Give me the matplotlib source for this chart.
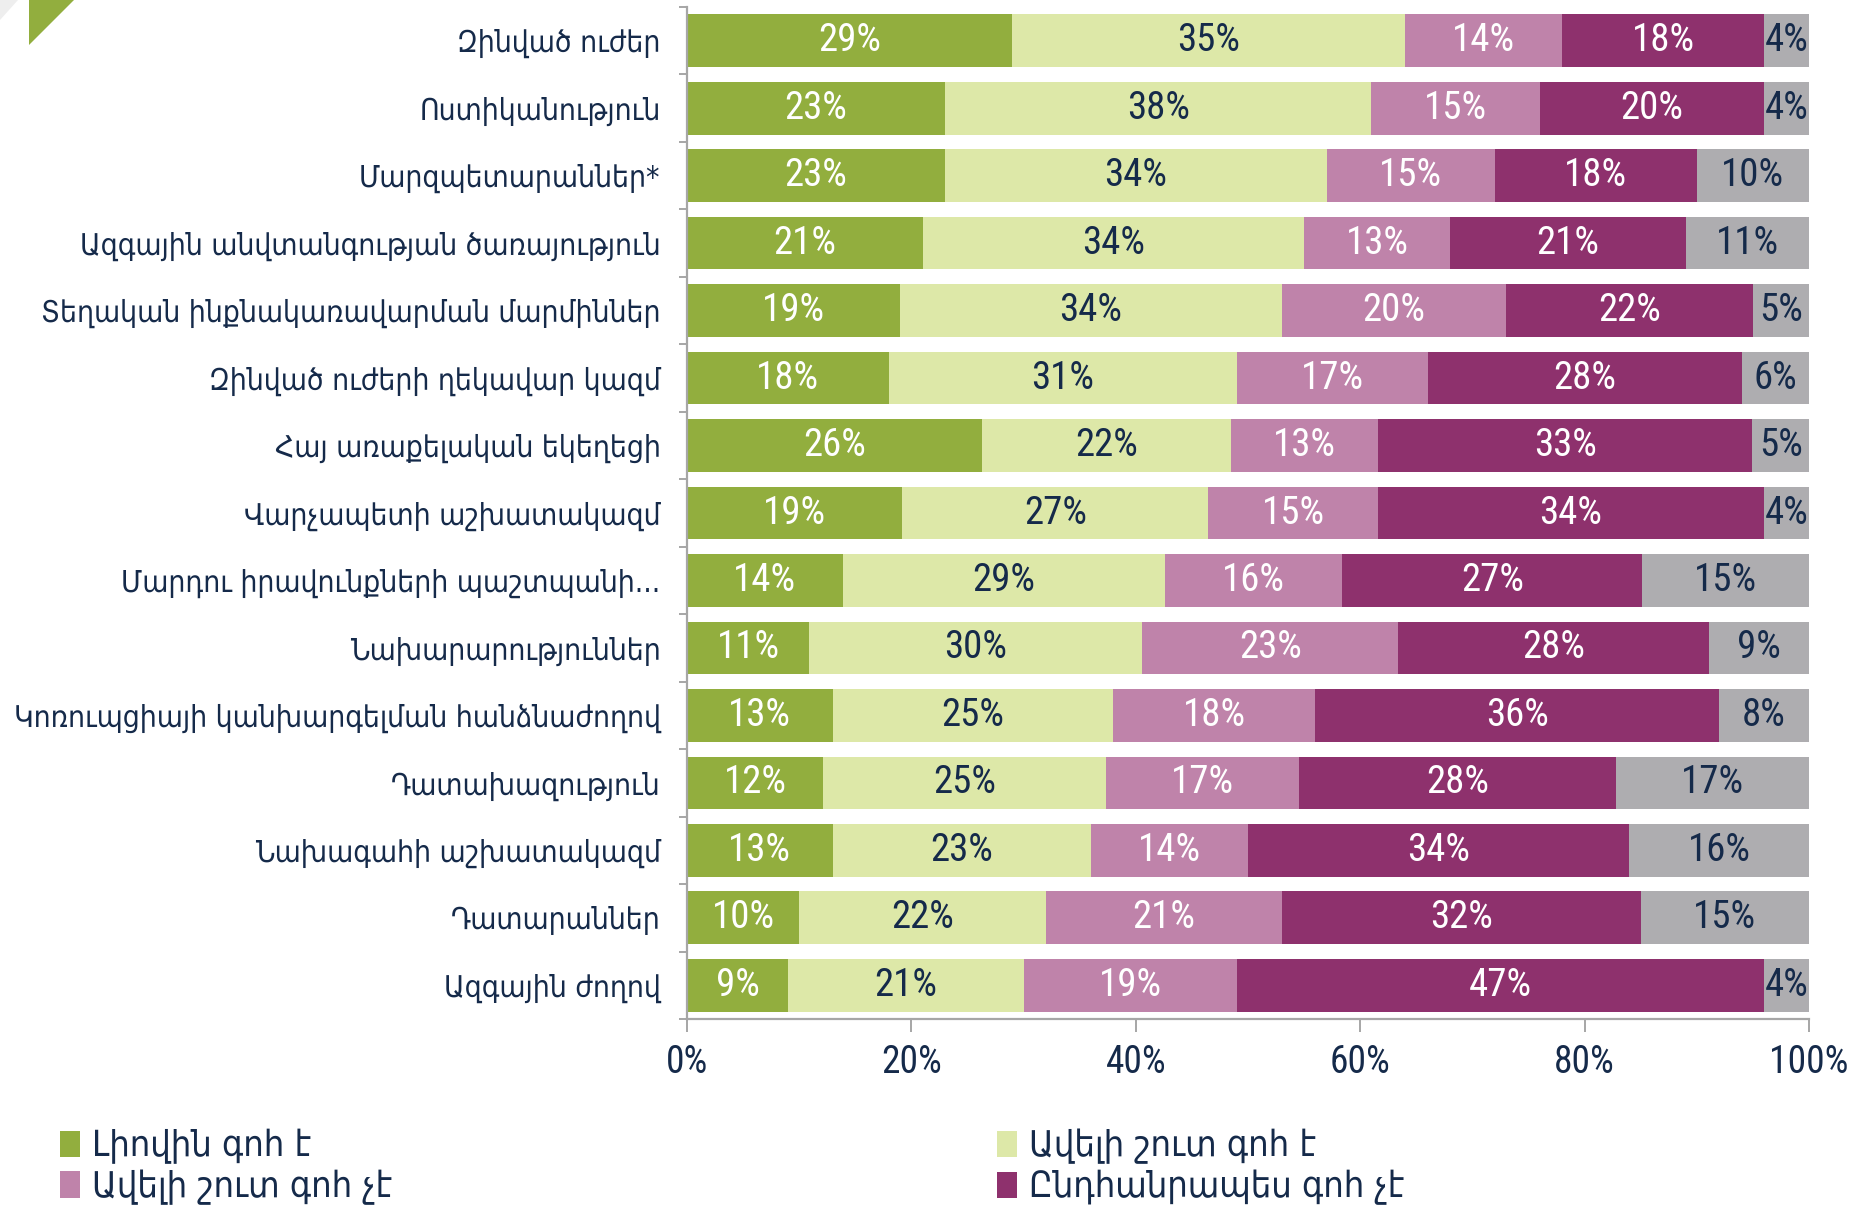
import matplotlib
matplotlib.use("Agg")
import matplotlib.pyplot as plt
from matplotlib import font_manager
from matplotlib.font_manager import FontProperties
from matplotlib.ft2font import FT2Font
from matplotlib.patches import Polygon, Patch
import numpy as np

categories = [
    "Զինված ուժեր",
    "Ոստիկանություն",
    "Մարզպետարաններ*",
    "Ազգային անվտանգության ծառայություն",
    "Տեղական ինքնակառավարման մարմիններ",
    "Զինված ուժերի ղեկավար կազմ",
    "Հայ առաքելական եկեղեցի",
    "Վարչապետի աշխատակազմ",
    "Մարդու իրավունքների պաշտպանի...",
    "Նախարարություններ",
    "Կոռուպցիայի կանխարգելման հանձնաժողով",
    "Դատախազություն",
    "Նախագահի աշխատակազմ",
    "Դատարաններ",
    "Ազգային ժողով",
]

fully_satisfied = [29, 23, 23, 21, 19, 18, 26, 19, 14, 11, 13, 12, 13, 10, 9]
rather_satisfied = [35, 38, 34, 34, 34, 31, 22, 27, 29, 30, 25, 25, 23, 22, 21]
rather_not = [14, 15, 15, 13, 20, 17, 13, 15, 16, 23, 18, 17, 14, 21, 19]
not_at_all = [18, 20, 18, 21, 22, 28, 33, 34, 27, 28, 36, 28, 34, 32, 47]
no_answer = [4, 4, 10, 11, 5, 6, 5, 4, 15, 9, 8, 17, 16, 15, 4]

series_names = ["Լիովին գոհ է", "Ավելի շուտ գոհ է", "Ավելի շուտ գոհ չէ",
                "Ընդհանրապես գոհ չէ", "Դժվարանում եմ պատասխանել"]
x_ticks = [0, 20, 40, 60, 80, 100]
x_ticklabels = ["0%", "20%", "40%", "60%", "80%", "100%"]

colors = ["#92AE3E", "#DDE8A8", "#BF83AA", "#8E316D", "#AEADB0"]
label_colors = ["white", "#152A4A", "white", "white", "#152A4A"]
NAVY = "#152A4A"
GRAY = "#A6A6A6"


# ---- font selection -------------------------------------------------------
def has_chars(path, chars):
    try:
        cmap = FT2Font(path).get_charmap()
    except Exception:
        return False
    return all(ord(c) in cmap for c in chars)


def is_narrow(f):
    n = f.name.lower()
    st = str(f.stretch).lower()
    return ("condensed" in n or "narrow" in n or "condensed" in st) and "extra" not in n \
        and "ultra" not in n and "extra" not in st and "ultra" not in st


def pick(chars, prefer_names):
    fl = [f for f in font_manager.fontManager.ttflist
          if f.style == "normal" and f.weight in (400, "normal", "regular")]
    narrow = [f for f in fl if is_narrow(f) and has_chars(f.fname, chars)]
    for nm in prefer_names:
        for f in narrow:
            if f.name == nm:
                return f.fname
    if narrow:
        return narrow[0].fname
    return None


num_path = pick("0123456789%", ["Roboto Condensed", "Liberation Sans Narrow", "Open Sans Condensed",
                                "Noto Sans Condensed", "DejaVu Sans"])
if num_path is None:
    num_path = font_manager.findfont(FontProperties(family="Roboto"))
arm_path = pick("ԱԶգհ", ["DejaVu Sans", "Noto Sans Armenian Condensed", "Noto Sans Armenian"])
if arm_path is None:
    arm_path = font_manager.findfont(FontProperties(family="DejaVu Sans"))

W, H = 1858, 1211
fig = plt.figure(figsize=(W / 100, H / 100), dpi=100)
renderer = fig.canvas.get_renderer()


def fit_size(text, path, target_px, max_pt):
    t = fig.text(0, 0, text, fontproperties=FontProperties(fname=path, size=20))
    w = t.get_window_extent(renderer).width
    t.remove()
    return min(max_pt, 20 * target_px / w)


num_size = fit_size("100%", num_path, 80, 27)
cat_size = fit_size("Կոռուպցիայի կանխարգելման հանձնաժողով", arm_path, 650, 24)
leg_size = fit_size("Ընդհանրապես գոհ չէ", arm_path, 376, 26)
num_fp = FontProperties(fname=num_path, size=num_size)
bar_fp = FontProperties(fname=num_path, size=min(num_size * 1.05, 28))
cat_fp = FontProperties(fname=arm_path, size=cat_size)
leg_fp = FontProperties(fname=arm_path, size=leg_size)

# ---- chart ----------------------------------------------------------------
ax = fig.add_axes([687 / W, 1 - 1019 / H, (1809 - 687) / W, (1019 - 7) / H])

data = np.array([fully_satisfied, rather_satisfied, rather_not, not_at_all, no_answer], dtype=float)
totals = data.sum(axis=0)
norm = data / totals * 100
y = np.arange(len(categories))
left = np.zeros(len(categories))
for i in range(data.shape[0]):
    bars = ax.barh(y, norm[i], left=left, height=0.78, color=colors[i], edgecolor="none")
    ax.bar_label(bars, labels=[f"{int(v)}%" for v in data[i]], label_type="center",
                 color=label_colors[i], fontproperties=bar_fp)
    left += norm[i]

ax.set_xlim(0, 100)
ax.set_ylim(len(categories) - 0.5, -0.5)
ax.set_yticks(y)
ax.set_yticklabels(categories, color=NAVY, fontproperties=cat_fp)
ax.set_yticks(np.arange(-0.5, len(categories), 1), minor=True)
ax.tick_params(axis="y", which="major", length=0, pad=19)
ax.tick_params(axis="y", which="minor", length=6, width=1.4, color=GRAY, direction="out")
ax.set_xticks(x_ticks)
ax.set_xticklabels(x_ticklabels, color=NAVY, fontproperties=num_fp)
ax.tick_params(axis="x", length=9, width=1.4, color=GRAY, pad=9)
for s in ["top", "right"]:
    ax.spines[s].set_visible(False)
for s in ["left", "bottom"]:
    ax.spines[s].set_color(GRAY)
    ax.spines[s].set_linewidth(1.6)

# legends (4 series shown in two columns)
leg_kw = dict(frameon=False, handlelength=0.55, handleheight=0.75,
              handletextpad=0.35, labelspacing=0.15, borderpad=0, borderaxespad=0,
              labelcolor=NAVY, loc="upper left", prop=leg_fp)
h = [Patch(facecolor=c, edgecolor="none") for c in colors]
fig.legend([h[0], h[2]], [series_names[0], series_names[2]],
           bbox_to_anchor=(60 / W, 1 - 1129 / H), **leg_kw)
fig.legend([h[1], h[3]], [series_names[1], series_names[3]],
           bbox_to_anchor=(997 / W, 1 - 1129 / H), **leg_kw)

# decorative corner triangles
fig.patches.append(Polygon([(0, H), (18, H), (0, H - 20)], closed=True,
                           facecolor="#EEEEEE", edgecolor="none", transform=None))
fig.patches.append(Polygon([(29, H), (74, H), (29, H - 45)], closed=True,
                           facecolor="#92AE3E", edgecolor="none", transform=None))

fig.savefig("out.png", dpi=100)
